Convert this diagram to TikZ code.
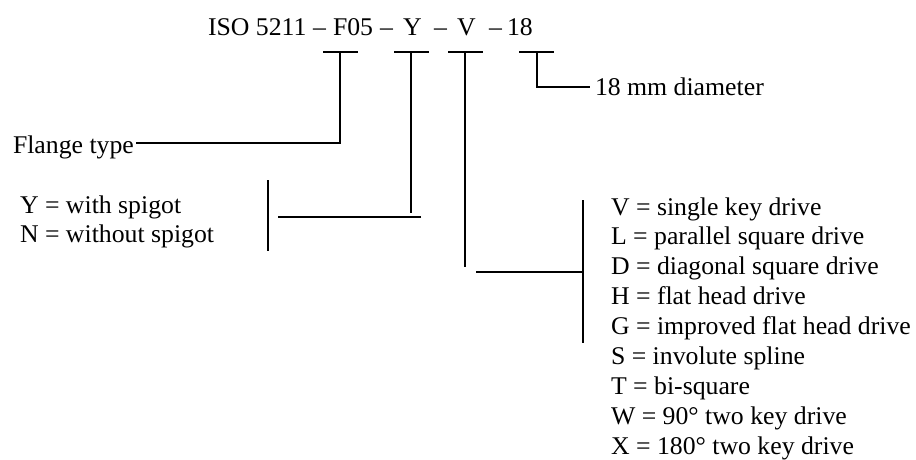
\documentclass[tikz,border=0pt]{standalone}
\usepackage{fontspec}
\setmainfont{Liberation Serif}[FakeStretch=1.01]
\begin{document}
\begin{tikzpicture}[x=1pt,y=-1pt,
  lbl/.style={anchor=base west,inner sep=0pt,outer sep=0pt,font=\fontsize{25.5}{29.9}\selectfont},
  ln/.style={line width=1.8pt,line cap=butt}]
\useasboundingbox (0,0) rectangle (916,459);
% title tokens
\node[lbl] (t1) at (208,35) {ISO 5211};
\node[lbl] (t2) at (313,35) {–};
\node[lbl] (t3) at (333,35) {F05};
\node[lbl] (t4) at (380,35) {–};
\node[lbl] (t5) at (403,35) {Y};
\node[lbl] (t6) at (434,35) {–};
\node[lbl] (t7) at (457,35) {V};
\node[lbl] (t8) at (489,35) {–};
\node[lbl] (t9) at (507,35) {18};
% labels
\node[lbl] (diam) at (595,95) {18 mm diameter};
\node[lbl] (flange) at (13,153) {Flange type};
\node[lbl] (yw) at (20,213) {Y = with spigot};
\node[lbl] (nw) at (20,242) {N = without spigot};
\foreach \t [count=\i from 0] in {V = single key drive,L = parallel square drive,D = diagonal square drive,H = flat head drive,G = improved flat head drive,S = involute spline,T = bi-square,W = 90° two key drive,X = 180° two key drive}
  \node[lbl] (d\i) at (611,215+29.9*\i) {\t};
% bracket coordinates
\coordinate (fa) at (323,52); \coordinate (fb) at (358,52);
\coordinate (fc) at (340,52); \coordinate (fd) at (340,143);
\coordinate (fe) at (136,143);
\coordinate (ya) at (394,52); \coordinate (yb) at (429,52);
\coordinate (yc) at (411,52); \coordinate (yd) at (411,213);
\coordinate (ye) at (421,217); \coordinate (yf) at (278,217);
\coordinate (yg) at (268,180); \coordinate (yh) at (268,251);
\coordinate (va) at (448,52); \coordinate (vb) at (483,52);
\coordinate (vc) at (465,52); \coordinate (vd) at (465,267);
\coordinate (ve) at (476,272); \coordinate (vf) at (583,272);
\coordinate (vg) at (583,200); \coordinate (vh) at (583,343);
\coordinate (ea) at (519,52); \coordinate (eb) at (554,52);
\coordinate (ec) at (537,52); \coordinate (ed) at (537,87);
\coordinate (ee) at (590,87);
% connectors
\draw[ln] (fa) -- (fb); \draw[ln] (fc) -- (fd) -- (fe);
\draw[ln] (ya) -- (yb); \draw[ln] (yc) -- (yd);
\draw[ln] (ye) -- (yf); \draw[ln] (yg) -- (yh);
\draw[ln] (va) -- (vb); \draw[ln] (vc) -- (vd);
\draw[ln] (ve) -- (vf); \draw[ln] (vg) -- (vh);
\draw[ln] (ea) -- (eb); \draw[ln] (ec) -- (ed) -- (ee);
\end{tikzpicture}
\end{document}
